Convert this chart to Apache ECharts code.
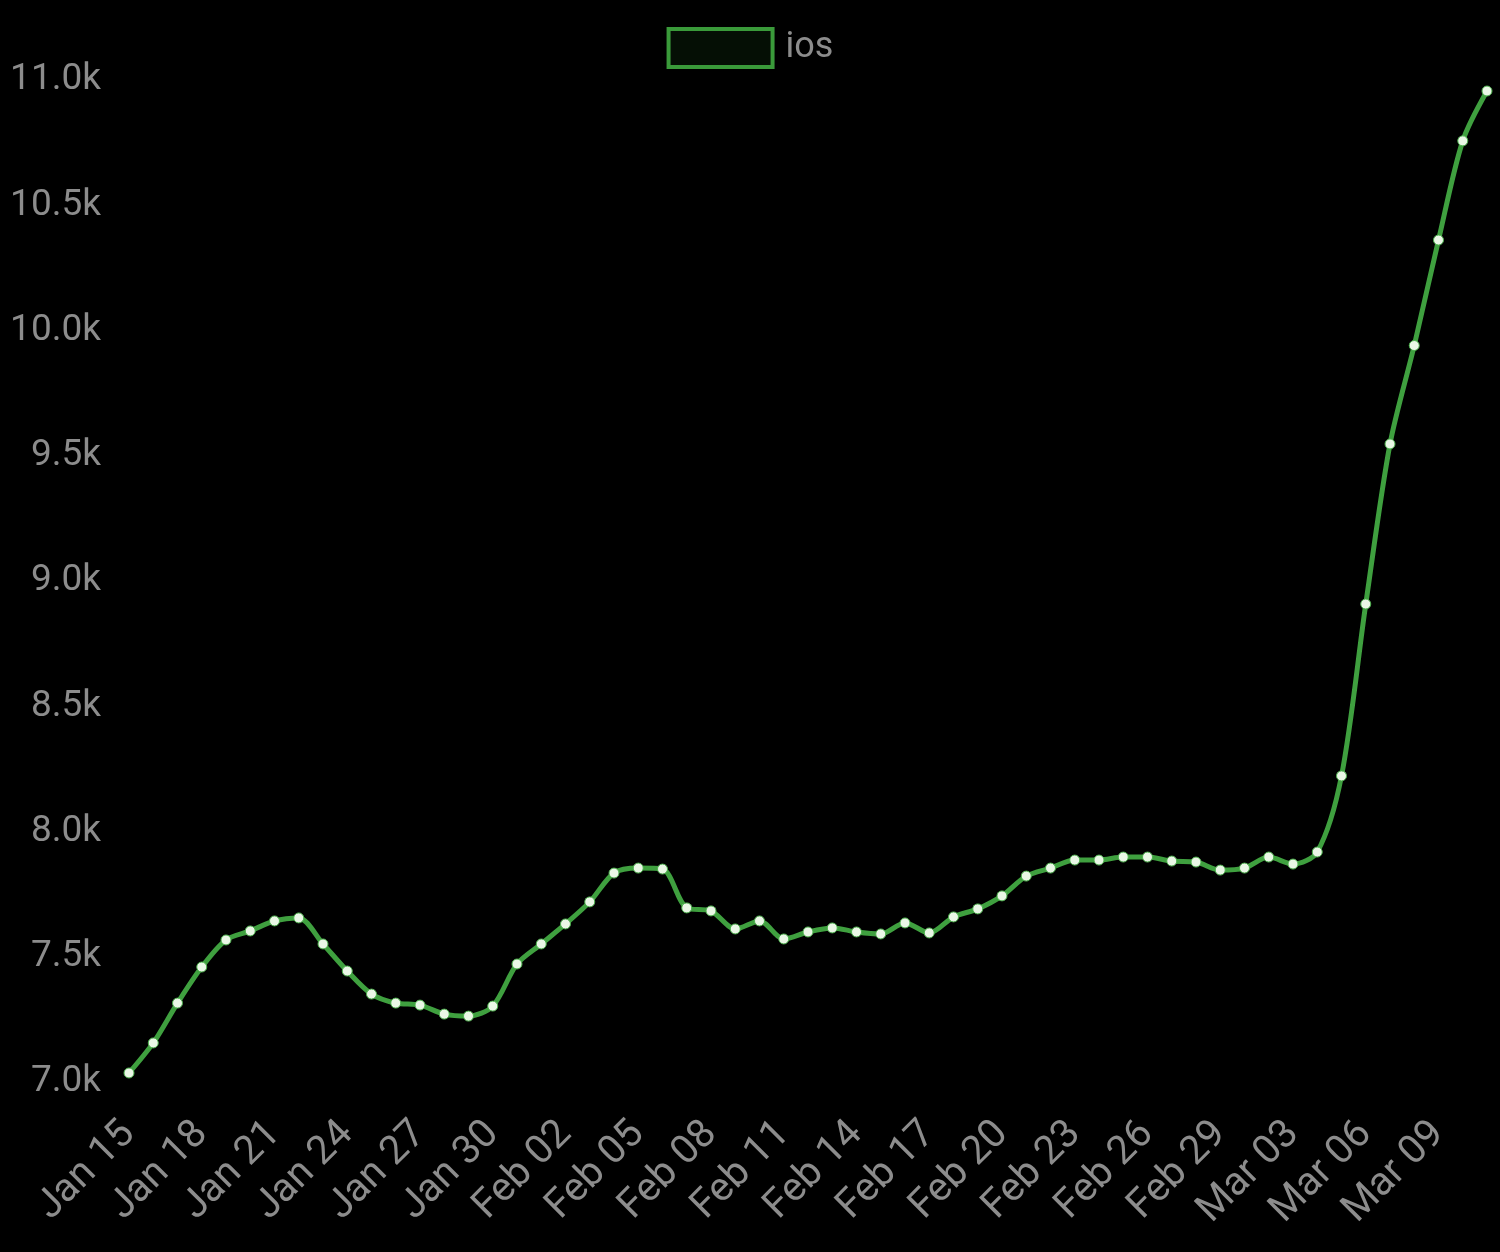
<!DOCTYPE html>
<html>
<head>
<meta charset="utf-8">
<script src="https://cdn.jsdelivr.net/npm/echarts@6/dist/echarts.min.js"></script>
<style>
  html, body { margin: 0; padding: 0; background: #000; }
  #main { width: 1500px; height: 1252px; }
</style>
</head>
<body>
<div id="main"></div>
<script>
// daily dates, Jan 15 - Mar 11
var dates = [
  'Jan 15', 'Jan 16', 'Jan 17', 'Jan 18', 'Jan 19', 'Jan 20', 'Jan 21', 'Jan 22', 'Jan 23',
  'Jan 24', 'Jan 25', 'Jan 26', 'Jan 27', 'Jan 28', 'Jan 29', 'Jan 30', 'Jan 31',
  'Feb 01', 'Feb 02', 'Feb 03', 'Feb 04', 'Feb 05', 'Feb 06', 'Feb 07', 'Feb 08', 'Feb 09',
  'Feb 10', 'Feb 11', 'Feb 12', 'Feb 13', 'Feb 14', 'Feb 15', 'Feb 16', 'Feb 17', 'Feb 18',
  'Feb 19', 'Feb 20', 'Feb 21', 'Feb 22', 'Feb 23', 'Feb 24', 'Feb 25', 'Feb 26', 'Feb 27',
  'Feb 28', 'Feb 29',
  'Mar 01', 'Mar 02', 'Mar 03', 'Mar 04', 'Mar 05', 'Mar 06', 'Mar 07', 'Mar 08', 'Mar 09',
  'Mar 10', 'Mar 11'
];

var iosValues = [
  7036, 7156, 7315, 7459, 7567, 7603, 7643, 7655, 7551,
  7443, 7351, 7315, 7307, 7271, 7263, 7303, 7471,
  7551, 7631, 7719, 7834, 7854, 7850, 7695, 7683, 7611,
  7643, 7571, 7599, 7615, 7599, 7591, 7635, 7595, 7659,
  7691, 7743, 7822, 7854, 7886, 7886, 7898, 7898, 7882,
  7878, 7846,
  7854, 7898, 7870, 7918, 8222, 8908, 9547, 9940, 10361,
  10757, 10956
];

var seriesName = 'ios';
var yMin = 7000;
var yMax = 11000;
var yStep = 500;

var chart = echarts.init(document.getElementById('main'));

var option = {
  backgroundColor: '#000',
  textStyle: { fontFamily: 'Roboto' },
  legend: {
    top: 22,
    left: 'center',
    itemWidth: 104,
    itemHeight: 38,
    itemGap: 10,
    data: [{
      name: seriesName,
      icon: 'rect',
      itemStyle: { color: '#050f05', borderColor: '#3a9a3a', borderWidth: 4 }
    }],
    textStyle: { color: '#8c8c8c', fontSize: 36, padding: [0, 0, 0, 8] }
  },
  grid: {
    left: 129,
    right: 13,
    top: 80,
    bottom: 170
  },
  xAxis: {
    type: 'category',
    boundaryGap: false,
    data: dates,
    axisLine: { show: false },
    axisTick: { show: false },
    splitLine: { show: false },
    axisLabel: {
      interval: 2,
      rotate: 45,
      margin: 46,
      color: '#8c8c8c',
      fontSize: 40
    }
  },
  yAxis: {
    type: 'value',
    min: yMin,
    max: yMax,
    interval: yStep,
    axisLine: { show: false },
    axisTick: { show: false },
    splitLine: { show: false },
    axisLabel: {
      margin: 28,
      color: '#8c8c8c',
      fontSize: 37,
      formatter: function (v) { return (v / 1000).toFixed(1) + 'k'; }
    }
  },
  series: [{
    name: seriesName,
    type: 'line',
    data: iosValues,
    smooth: 0.3,
    symbol: 'circle',
    symbolSize: 10,
    lineStyle: { color: '#3fa03f', width: 5 },
    itemStyle: { color: '#eaf7e6', borderColor: '#4caf4c', borderWidth: 1 }
  }]
};

chart.setOption(option);
</script>
</body>
</html>
